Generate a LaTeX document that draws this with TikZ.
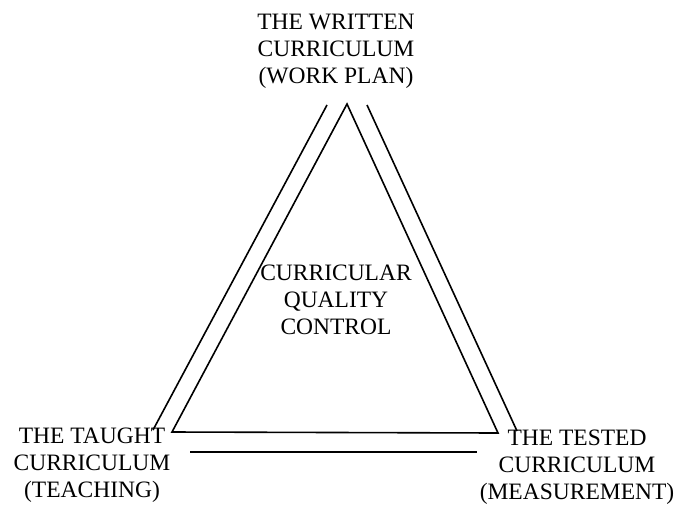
\documentclass[tikz,border=0pt]{standalone}
\usepackage{fontspec}
\setmainfont{Liberation Serif}
\usepackage{tikz}
\usetikzlibrary{positioning}

\begin{document}
\begin{tikzpicture}[x=1pt, y=-1pt,
                  every node/.style={align=center, inner sep=0pt, anchor=north,
                                     font=\fontsize{23.5}{27}\selectfont},
                  side/.style={line width=1.6pt}]
    \useasboundingbox (0,0) rectangle (676,506);
    \node (W) at (336,14) {THE WRITTEN\\CURRICULUM\\(WORK PLAN)};
    \node (T) at (92,428) {THE TAUGHT\\CURRICULUM\\(TEACHING)};
    \node (M) at (577,430) {THE TESTED\\CURRICULUM\\(MEASUREMENT)};
    \node (Q) at (336,265) {CURRICULAR\\QUALITY\\CONTROL};
    % inner triangle
    \coordinate (top) at (347,104);
    \coordinate (left) at (172,432);
    \coordinate (right) at (498,433);
    \draw[side] (top) -- (left) -- (right) -- cycle;
    % outer lines
    \coordinate (lt) at (327,105);
    \coordinate (lb) at (153,430);
    \coordinate (rt) at (367,105);
    \coordinate (rb) at (517,431);
    \coordinate (bl) at (190,452);
    \coordinate (br) at (477,452);
    \draw[side] (lt) -- (lb);
    \draw[side] (rt) -- (rb);
    \draw[side] (bl) -- (br);
  \end{tikzpicture}
\end{document}
